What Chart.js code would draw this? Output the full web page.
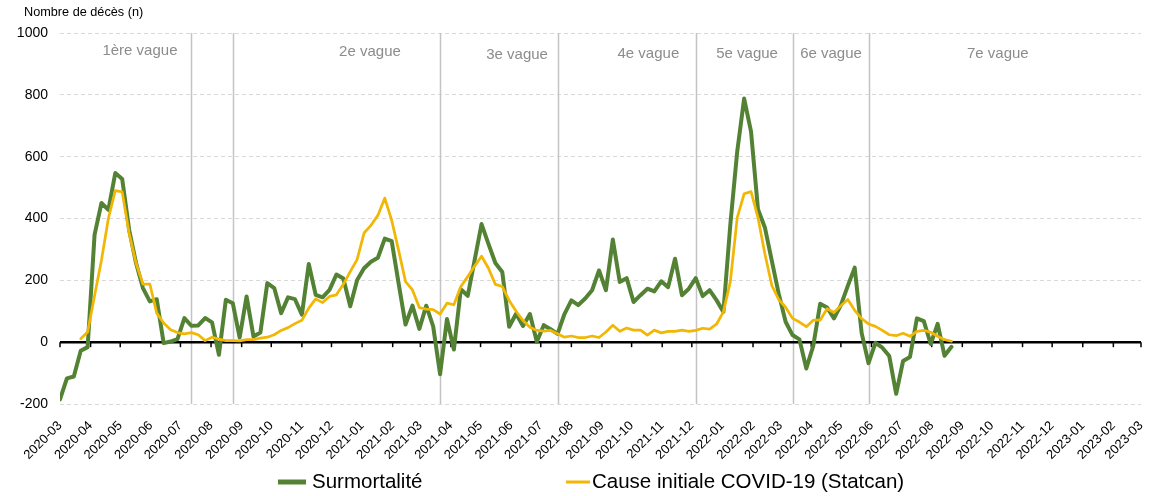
<!DOCTYPE html>
<html lang="fr">
<head>
<meta charset="UTF-8">
<title>Surmortalité et décès COVID-19</title>
<script src="https://cdn.jsdelivr.net/npm/chart.js"></script>
<style>
  html, body { margin: 0; padding: 0; background: #fff; }
  #wrap { position: relative; width: 1151px; height: 496px; }
</style>
</head>
<body>
<div id="wrap"><canvas id="chart" width="1151" height="496"></canvas></div>
<script>
// weekly series, first week starts 2020-03-01
const firstWeek = '2020-03-01';

const monthLabels = [
  '2020-03', '2020-04', '2020-05', '2020-06', '2020-07', '2020-08', '2020-09', '2020-10',
  '2020-11', '2020-12', '2021-01', '2021-02', '2021-03', '2021-04', '2021-05', '2021-06',
  '2021-07', '2021-08', '2021-09', '2021-10', '2021-11', '2021-12', '2022-01', '2022-02',
  '2022-03', '2022-04', '2022-05', '2022-06', '2022-07', '2022-08', '2022-09', '2022-10',
  '2022-11', '2022-12', '2023-01', '2023-02', '2023-03'
];

const surmortalite = [
  -185, -117, -111, -28, -16, 347, 450, 428, 547, 528,
  364, 256, 175, 132, 139, -3, 2, 10, 78, 53,
  54, 78, 64, -41, 137, 126, 15, 148, 18, 31,
  191, 175, 94, 145, 139, 89, 253, 153, 145, 169,
  219, 206, 116, 201, 239, 260, 273, 335, 327, 190,
  57, 118, 43, 118, 51, -104, 75, -24, 171, 150,
  265, 382, 318, 256, 227, 50, 92, 52, 91, 1,
  55, 42, 27, 91, 135, 120, 141, 168, 232, 168,
  332, 195, 207, 130, 152, 173, 164, 197, 178, 270,
  152, 173, 207, 149, 168, 136, 98, 380, 617, 788,
  681, 430, 371, 264, 157, 66, 23, 9, -85, -12,
  124, 112, 77, 120, 182, 241, 30, -68, -2, -18,
  -45, -167, -61, -48, 77, 68, -6, 59, -44, -15
];

const causeCovid = [
  null, null, null, 11, 33, 150, 265, 400, 490, 486,
  353, 256, 188, 188, 94, 62, 40, 31, 27, 31,
  24, 5, 16, 10, 5, 5, 4, 8, 8, 13,
  16, 24, 38, 47, 60, 71, 110, 140, 128, 148,
  153, 187, 228, 268, 353, 378, 410, 466, 394, 297,
  196, 169, 112, 107, 105, 91, 126, 121, 180, 212,
  246, 278, 239, 187, 180, 135, 100, 70, 48, 38,
  36, 38, 27, 16, 20, 15, 15, 20, 15, 33,
  55, 35, 46, 39, 39, 23, 39, 30, 35, 35,
  39, 35, 38, 45, 42, 58, 98, 195, 403, 480,
  487, 403, 286, 184, 138, 113, 77, 65, 50, 71,
  71, 108, 96, 118, 138, 103, 76, 59, 51, 38,
  24, 21, 29, 19, 35, 38, 32, 19, 8, 3
];

const waveStarts = ['2020-07-12', '2020-08-23', '2021-03-21', '2021-07-18', '2021-12-05', '2022-03-13', '2022-05-29'];
const waveNames = ['1ère vague', '2e vague', '3e vague', '4e vague', '5e vague', '6e vague', '7e vague'];

const FONT = "'Liberation Sans', Arial, sans-serif";
Chart.defaults.font.family = FONT;

function dayOf(s) {
  const p = s.split('-').map(Number);
  const base = firstWeek.split('-').map(Number);
  return (Date.UTC(p[0], p[1] - 1, p[2] || 1) - Date.UTC(base[0], base[1] - 1, base[2])) / 86400000;
}

const monthDays = monthLabels.map(dayOf);
const weekDays = surmortalite.map((_, i) => i * 7);
const toPoints = arr => arr.map((v, i) => ({ x: weekDays[i], y: v }));

// where the wave names sit (day, value)
const waveLabelPos = [[81, 942], [314, 939], [463, 928], [596, 934], [696, 934], [781, 934], [950, 934]];

const decorations = {
  id: 'decorations',
  beforeDatasetsDraw(chart) {
    const { ctx, chartArea, scales: { x, y } } = chart;
    ctx.save();
    // wave separators
    ctx.strokeStyle = '#c4c4c4';
    ctx.lineWidth = 1.5;
    waveStarts.forEach(d => {
      const px = Math.round(x.getPixelForValue(dayOf(d))) + 0.5;
      ctx.beginPath();
      ctx.moveTo(px, chartArea.top);
      ctx.lineTo(px, chartArea.bottom);
      ctx.stroke();
    });
    // wave names
    ctx.fillStyle = '#8c8c8c';
    ctx.font = '15px ' + FONT;
    ctx.textAlign = 'center';
    ctx.textBaseline = 'middle';
    waveNames.forEach((name, i) => {
      ctx.fillText(name, x.getPixelForValue(waveLabelPos[i][0]), y.getPixelForValue(waveLabelPos[i][1]));
    });
    // zero line with month ticks
    const y0 = y.getPixelForValue(0);
    ctx.strokeStyle = '#000';
    ctx.lineWidth = 1.5;
    monthDays.forEach(d => {
      const px = x.getPixelForValue(d);
      ctx.beginPath();
      ctx.moveTo(px, y0);
      ctx.lineTo(px, y0 + 5);
      ctx.stroke();
    });
    ctx.lineWidth = 2.5;
    ctx.beginPath();
    ctx.moveTo(chartArea.left, y0);
    ctx.lineTo(chartArea.right, y0);
    ctx.stroke();
    ctx.restore();
  },
  afterDraw(chart) {
    const { ctx } = chart;
    ctx.save();
    ctx.fillStyle = '#000';
    ctx.textAlign = 'left';
    ctx.textBaseline = 'middle';
    ctx.font = '12.7px ' + FONT;
    ctx.fillText('Nombre de décès (n)', 24, 12);

    // legend
    const items = [
      { ds: chart.data.datasets[0], x0: 278, len: 28, lw: 5 },
      { ds: chart.data.datasets[1], x0: 566, len: 24, lw: 3 }
    ];
    const ly = 482;
    ctx.font = '20.5px ' + FONT;
    items.forEach(it => {
      ctx.strokeStyle = it.ds.borderColor;
      ctx.lineWidth = it.lw;
      ctx.beginPath();
      ctx.moveTo(it.x0, ly);
      ctx.lineTo(it.x0 + it.len, ly);
      ctx.stroke();
      ctx.fillStyle = '#000';
      ctx.fillText(it.ds.label, it.x0 + it.len + (it.lw > 4 ? 6 : 2), ly);
    });
    ctx.restore();
  }
};

new Chart(document.getElementById('chart'), {
  type: 'line',
  data: {
    datasets: [
      {
        label: 'Surmortalité',
        data: toPoints(surmortalite),
        borderColor: '#548235',
        borderWidth: 4,
        order: 1
      },
      {
        label: 'Cause initiale COVID-19 (Statcan)',
        data: toPoints(causeCovid),
        borderColor: '#F2B705',
        borderWidth: 2.75,
        order: 0
      }
    ]
  },
  options: {
    responsive: false,
    animation: false,
    layout: { padding: { top: 33, right: 10, left: 0, bottom: 0 } },
    elements: {
      point: { radius: 0 },
      line: { tension: 0, borderJoinStyle: 'round', borderCapStyle: 'round' }
    },
    plugins: {
      legend: { display: false },
      tooltip: { enabled: false }
    },
    scales: {
      x: {
        type: 'linear',
        min: monthDays[0],
        max: monthDays[monthDays.length - 1],
        afterBuildTicks: s => { s.ticks = monthDays.map(v => ({ value: v })); },
        afterFit: s => { s.height = 92; s.paddingLeft = 0; s.paddingRight = 0; },
        ticks: {
          autoSkip: false,
          minRotation: 45,
          maxRotation: 45,
          padding: 6,
          color: '#000',
          font: { size: 13 },
          callback: (v, i) => monthLabels[i]
        },
        grid: { display: false },
        border: { display: false }
      },
      y: {
        min: -200,
        max: 1000,
        afterFit: s => { s.width = 60; },
        ticks: {
          stepSize: 200,
          padding: 12,
          color: '#000',
          font: { size: 14 },
          callback: v => String(v)
        },
        grid: {
          drawTicks: false,
          lineWidth: 1,
          color: c => c.tick.value === 0 ? 'rgba(0,0,0,0)' : '#d9d9d9'
        },
        border: { display: false, dash: [4, 3] }
      }
    }
  },
  plugins: [decorations]
});
</script>
</body>
</html>
